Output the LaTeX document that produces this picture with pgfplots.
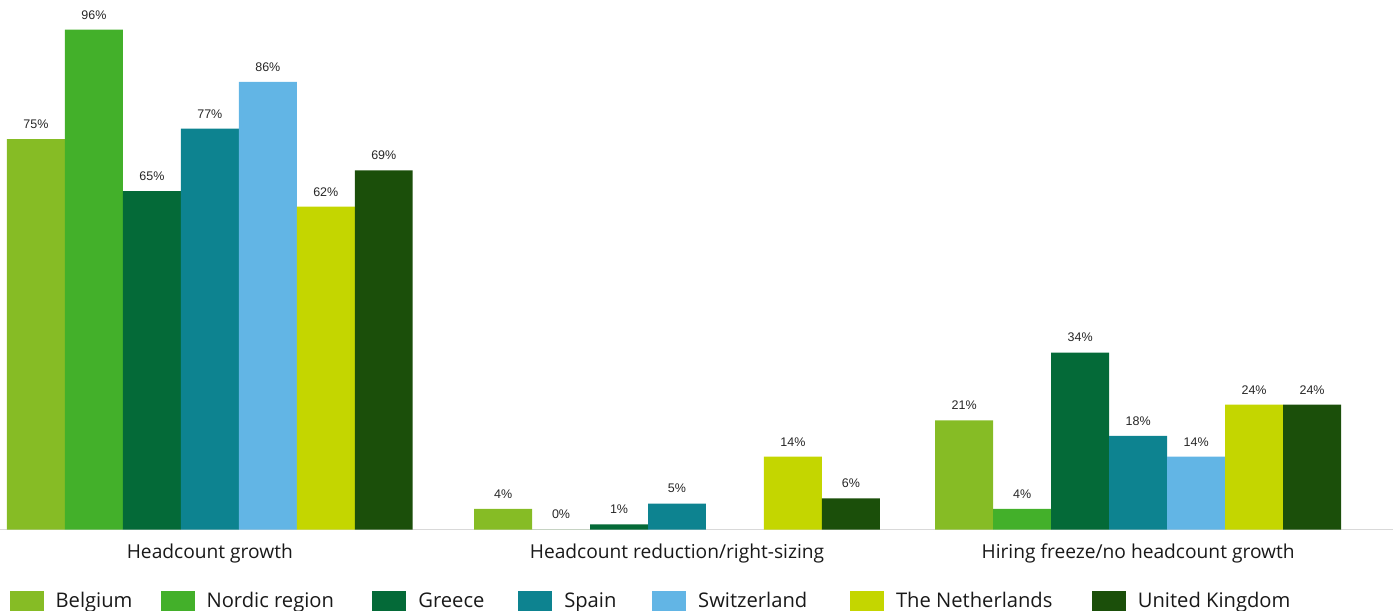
\documentclass[border=0pt]{standalone}
\usepackage{pgfplots}
\pgfplotsset{compat=1.18}
\usepackage{fontspec}
\setmainfont{Open Sans}
\newfontfamily\arialfont{Liberation Sans}
\definecolor{cBE}{HTML}{86BC25}
\definecolor{cNO}{HTML}{43B02A}
\definecolor{cGR}{HTML}{046A38}
\definecolor{cES}{HTML}{0D8390}
\definecolor{cCH}{HTML}{62B5E5}
\definecolor{cNL}{HTML}{C4D600}
\definecolor{cUK}{HTML}{1B4F0A}
\begin{document}
\begin{tikzpicture}
\begin{axis}[
  width=1393pt, height=530pt, scale only axis,
  xmin=-0.451, xmax=2.548, ymin=0, ymax=101.7,
  ybar=0pt, bar width=0.1249,
  axis x line=bottom, axis y line=none,
  x axis line style={-, draw=black!15, line width=1pt},
  xtick={0,1.0065,2},
  xticklabels={Headcount growth, Headcount reduction/right-sizing, Hiring freeze/no headcount growth},
  major tick length=0pt,
  xticklabel style={font=\fontsize{19.2}{22}\selectfont, text=black!90, yshift=-11pt},
  /pgf/number format/assume math mode=true,
  nodes near coords={\pgfmathprintnumber{\pgfplotspointmeta}\%},
  nodes near coords style={font=\arialfont\fontsize{12.5}{14}\selectfont, text=black!85, yshift=7pt},
  legend columns=7,
  legend cell align=left,
  legend style={draw=none, fill=none, inner sep=0pt,
    at={(axis description cs:0,0)}, anchor=north west, xshift=9pt, yshift=-61pt,
    nodes={inner sep=0pt},
    font=\fontsize{20.2}{23}\selectfont, text=black!90,
    /tikz/every odd column/.append style={column sep=12pt},
    /tikz/every even column/.append style={column sep=0pt}},
  legend image code/.code={\fill[#1] (0pt,-10pt) rectangle (34pt,10pt);},
]
\addplot[fill=cBE, draw=none] coordinates {(0,75) (1.0065,4) (2,21)};
\addplot[fill=cNO, draw=none] coordinates {(0,96) (1.0065,0) (2,4)};
\addplot[fill=cGR, draw=none] coordinates {(0,65) (1.0065,1) (2,34)};
\addplot[fill=cES, draw=none] coordinates {(0,77) (1.0065,5) (2,18)};
\addplot[fill=cCH, draw=none] coordinates {(0,86) (2,14)};
\addplot[fill=cNL, draw=none] coordinates {(0,62) (1.0065,14) (2,24)};
\addplot[fill=cUK, draw=none] coordinates {(0,69) (1.0065,6) (2,24)};
\legend{\makebox[105pt][l]{Belgium}, \makebox[166pt][l]{Nordic region}, \makebox[100pt][l]{Greece}, \makebox[88pt][l]{Spain}, \makebox[152pt][l]{Switzerland}, \makebox[196pt][l]{The Netherlands}, United Kingdom}
\path (rel axis cs:0,1) -- (rel axis cs:1,1);
\end{axis}
\end{tikzpicture}
\end{document}
